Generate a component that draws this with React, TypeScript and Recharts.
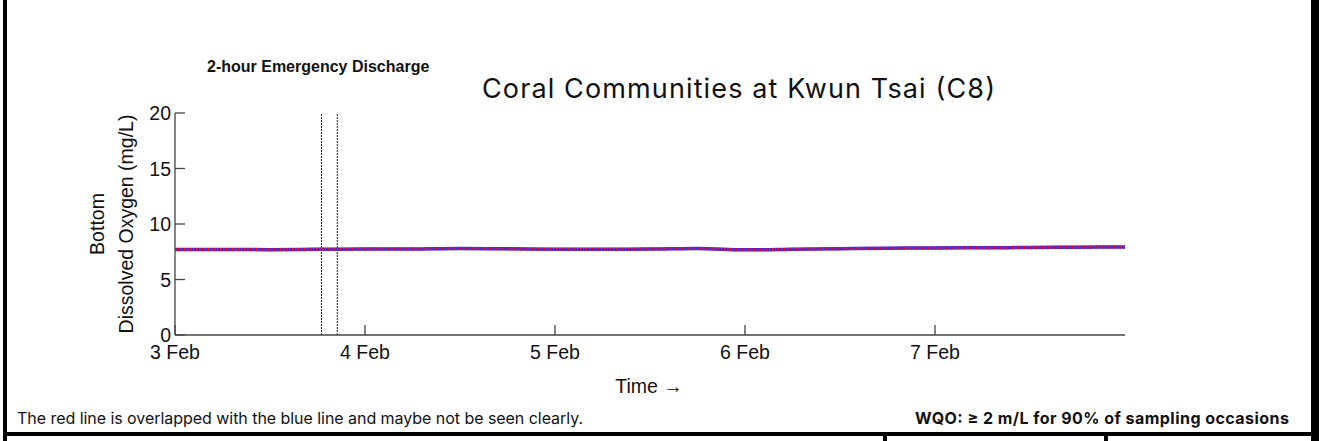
import React from "react";
import { LineChart, Line, XAxis, YAxis, ReferenceLine } from "recharts";

// time in days since 3 Feb 00:00
const times = [0, 0.25, 0.5, 0.75, 1, 1.25, 1.5, 1.75, 2, 2.25, 2.5, 2.75, 3, 3.25, 3.5, 3.75, 4, 4.25, 4.5, 4.75, 5];
const blueValues = [7.7, 7.7, 7.69, 7.72, 7.74, 7.75, 7.8, 7.76, 7.72, 7.73, 7.74, 7.79, 7.67, 7.72, 7.78, 7.82, 7.84, 7.86, 7.88, 7.91, 7.93];
const redValues = [7.7, 7.7, 7.69, 7.72, 7.74, 7.75, 7.8, 7.76, 7.72, 7.73, 7.74, 7.79, 7.67, 7.72, 7.78, 7.82, 7.84, 7.86, 7.88, 7.91, 7.93];
const xTicks = [0, 1, 2, 3, 4];
const xTickLabels = ["3 Feb", "4 Feb", "5 Feb", "6 Feb", "7 Feb"];
const yTicks = [0, 5, 10, 15, 20];
const dischargeStart = 18.5 / 24;
const dischargeEnd = 20.5 / 24;

const data = times.map((t, i) => ({ t, blue: blueValues[i], red: redValues[i] }));

const W = 1319;
const H = 441;
const tickFont = "'Liberation Sans', Arial, sans-serif";
const noteFont = "Inter, 'Noto Sans', sans-serif";

const XTick = (props: any) => {
  const { x, y, payload } = props;
  const idx = xTicks.indexOf(payload.value);
  return (
    <g>
      <line x1={x} y1={y} x2={x} y2={y - 10} stroke="#444" strokeWidth={1.3} />
      <text x={x} y={y + 24} textAnchor="middle" fontFamily={tickFont} fontSize={19.5} fill="#111">
        {xTickLabels[idx]}
      </text>
    </g>
  );
};

const YTick = (props: any) => {
  const { x, y, payload } = props;
  return (
    <g>
      <line x1={x} y1={y} x2={x + 10} y2={y} stroke="#444" strokeWidth={1.3} />
      <text x={x - 4} y={y + 7} textAnchor="end" fontFamily={tickFont} fontSize={19.5} fill="#111">
        {payload.value}
      </text>
    </g>
  );
};

export default function App() {
  return (
    <div style={{ position: "fixed", left: 0, top: 0, width: W, height: H, background: "#fff" }}>
      <LineChart
        width={W}
        height={H}
        data={data}
        margin={{ top: 113, right: 194, bottom: 56, left: 115 }}
      >
        <XAxis
          dataKey="t"
          type="number"
          domain={[0, 5]}
          ticks={xTicks}
          height={50}
          tickSize={0}
          tickMargin={0}
          tickLine={false}
          axisLine={{ stroke: "#444", strokeWidth: 1.3 }}
          tick={XTick}
          interval={0}
        />
        <YAxis
          type="number"
          domain={[0, 20]}
          ticks={yTicks}
          width={60}
          tickSize={0}
          tickMargin={0}
          tickLine={false}
          axisLine={{ stroke: "#444", strokeWidth: 1.3 }}
          tick={YTick}
          interval={0}
        />
        <ReferenceLine x={dischargeStart} stroke="#222" strokeWidth={1} strokeDasharray="2 1" />
        <ReferenceLine x={dischargeEnd} stroke="#222" strokeWidth={1} strokeDasharray="2 1" />
        <Line
          dataKey="blue"
          type="monotone"
          stroke="#2a2af0"
          strokeWidth={3.5}
          dot={false}
          isAnimationActive={false}
        />
        <Line
          dataKey="red"
          type="monotone"
          stroke="#f01030"
          strokeWidth={3}
          strokeDasharray="1.5 1.5"
          dot={false}
          isAnimationActive={false}
        />
      </LineChart>
      <svg
        width={W}
        height={H}
        style={{ position: "absolute", left: 0, top: 0, pointerEvents: "none" }}
      >
        <text x={207} y={72} fontFamily={tickFont} fontWeight="bold" fontSize={16} fill="#111">
          2-hour Emergency Discharge
        </text>
        <text x={482} y={98} fontFamily={noteFont} fontSize={27} fill="#111" textLength={513} lengthAdjust="spacing">
          Coral Communities at Kwun Tsai (C8)
        </text>
        <text
          transform="translate(97,224) rotate(-90)"
          textAnchor="middle"
          dominantBaseline="central"
          fontFamily={tickFont}
          fontSize={19.5}
          fill="#111"
        >
          Bottom
        </text>
        <text
          transform="translate(126,224) rotate(-90)"
          textAnchor="middle"
          dominantBaseline="central"
          fontFamily={tickFont}
          fontSize={19.5}
          fill="#111"
        >
          Dissolved Oxygen (mg/L)
        </text>
        <text x={649} y={393} textAnchor="middle" fontFamily={tickFont} fontSize={19.5} fill="#111">
          Time →
        </text>
        <text x={17} y={424} fontFamily={noteFont} fontSize={16} fill="#111" textLength={566} lengthAdjust="spacing">
          The red line is overlapped with the blue line and maybe not be seen clearly.
        </text>
        <text x={915} y={424} fontFamily={noteFont} fontWeight="bold" fontSize={16} fill="#111" textLength={374} lengthAdjust="spacing">
          WQO: ≥ 2 m/L for 90% of sampling occasions
        </text>
        <rect x={3} y={0} width={4} height={H} fill="#000" />
        <rect x={1311} y={0} width={8} height={H} fill="#000" />
        <rect x={3} y={432} width={1316} height={4} fill="#000" />
        <rect x={883} y={432} width={4} height={H - 432} fill="#000" />
        <rect x={1104} y={432} width={4} height={H - 432} fill="#000" />
      </svg>
    </div>
  );
}
